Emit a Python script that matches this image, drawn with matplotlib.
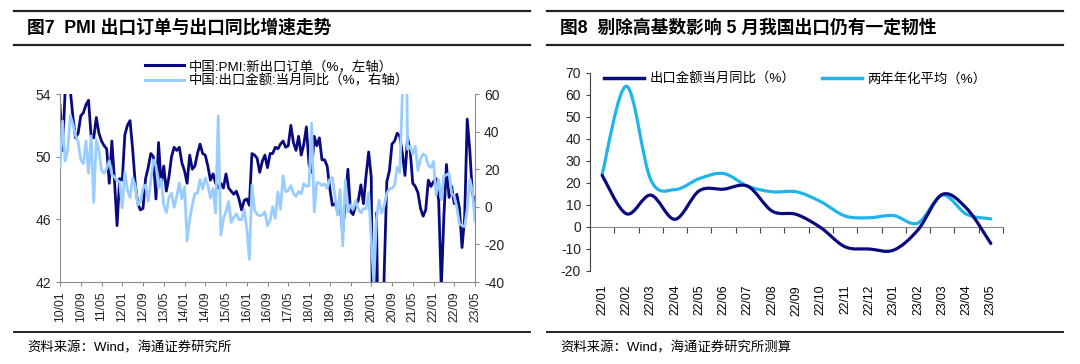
import numpy as np
import matplotlib
matplotlib.use('Agg')
import matplotlib.pyplot as plt
from matplotlib.lines import Line2D
from matplotlib.path import Path
from matplotlib.patches import PathPatch

plt.rcParams['font.family'] = ['Liberation Sans', 'Noto Sans CJK SC']
plt.rcParams['axes.unicode_minus'] = False

# ---- left chart: PMI new export orders (left axis) and export yoy (right axis), 2010/01 - 2023/05
pmi_export = [
    53.3, 50.4, 54.3, 55.0, 54.2, 52.5, 51.2, 51.5, 52.6, 52.8, 53.3, 53.6,
    51.3, 51.2, 52.5, 51.5, 51.0, 50.7, 50.5, 48.3, 51.0, 48.5, 45.6, 48.6,
    48.5, 51.4, 52.0, 52.3, 50.5, 48.3, 47.0, 46.6, 46.7, 48.6, 49.3, 50.2,
    50.0, 47.3, 50.9, 48.2, 49.4, 47.8, 48.7, 50.0, 50.6, 50.4, 50.6, 49.6,
    49.1, 48.3, 50.1, 49.2, 49.4, 50.2, 50.8, 50.2, 50.1, 49.4, 48.5, 48.9,
    48.3, 48.0, 48.3, 48.0, 48.9, 48.0, 47.8, 47.6, 47.8, 47.3, 46.6, 47.2,
    47.3, 46.9, 50.2, 50.1, 49.9, 49.0, 49.7, 50.1, 49.3, 50.2, 50.2, 50.6,
    50.5, 50.8, 51.0, 50.6, 50.7, 52.0, 50.9, 50.4, 51.3, 50.1, 50.8, 51.9,
    49.5, 49.0, 51.3, 50.7, 51.2, 49.8, 49.8, 49.4, 48.0, 46.9, 47.0, 46.6,
    46.9, 45.2, 47.1, 49.2, 46.5, 46.3, 46.9, 47.2, 48.2, 47.0, 48.8, 50.3,
    48.7, 28.7, 46.4, 33.5, 35.3, 42.6, 48.4, 49.1, 50.8, 51.0, 51.5, 51.3,
    50.2, 48.8, 51.2, 50.4, 48.3, 48.1, 47.7, 46.7, 46.2, 46.6, 48.5, 48.1,
    48.4, 48.6, 47.2, 41.6, 46.2, 49.5, 47.4, 48.1, 47.0, 47.6, 46.7, 44.2,
    46.1, 52.4, 50.4, 47.6, 47.2,
]
export_yoy = [
    21.0, 45.7, 24.3, 30.5, 48.5, 43.9, 38.1, 34.4, 25.1, 22.9, 34.9, 17.9,
    37.7, 2.4, 35.8, 29.9, 19.4, 17.9, 20.4, 24.5, 17.1, 15.9, 13.8, 13.4,
    -0.5, 18.4, 8.9, 4.9, 15.3, 11.3, 1.0, 2.7, 9.9, 11.6, 2.9, 14.1,
    25.0, 21.8, 10.0, 14.7, 1.0, -3.1, 5.1, 7.2, -0.3, 5.6, 12.7, 4.3,
    10.6, -18.1, -6.6, 0.9, 7.0, 7.2, 14.5, 9.4, 15.3, 11.6, 4.7, 9.7,
    -3.3, 48.3, -15.0, -6.4, -2.5, 2.8, -8.3, -5.5, -3.7, -6.9, -6.8, -1.4,
    -11.2, -28.0, 11.5, -1.8, -4.1, -4.8, -4.4, -2.8, -10.0, -7.3, 0.1, -6.1,
    7.9, -1.3, 16.4, 8.0, 8.7, 11.3, 7.2, 5.5, 8.1, 6.9, 12.3, 10.9,
    11.1, 44.5, -2.7, 12.9, 12.6, 11.3, 12.2, 9.8, 14.5, 15.6, 5.4, -4.4,
    9.1, -20.8, 14.2, -2.7, 1.1, -1.3, 3.3, -1.0, -3.2, -0.9, -1.1, 7.6,
    -17.2, -40.6, -6.6, 3.5, -3.3, 0.5, 7.2, 9.5, 9.9, 11.4, 21.1, 18.1,
    60.6, 154.9, 30.6, 32.3, 27.9, 32.2, 19.3, 25.6, 28.1, 27.1, 22.0, 20.9,
    24.1, 6.3, 14.4, 3.7, 16.3, 17.0, 17.8, 7.0, 5.6, -0.4, -9.0, -10.0,
    -10.5, -1.3, 14.8, 8.5, -7.5,
]
left_ticklabels = ['10/01', '10/09', '11/05', '12/01', '12/09', '13/05', '14/01',
                   '14/09', '15/05', '16/01', '16/09', '17/05', '18/01', '18/09',
                   '19/05', '20/01', '20/09', '21/05', '22/01', '22/09', '23/05']

# ---- right chart: 2022/01 - 2023/05
months = ['22/01', '22/02', '22/03', '22/04', '22/05', '22/06', '22/07', '22/08',
          '22/09', '22/10', '22/11', '22/12', '23/01', '23/02', '23/03', '23/04', '23/05']
export_month = [23.5, 6.0, 14.5, 3.5, 16.5, 17.2, 18.5, 7.2, 5.7, -0.3, -9.0,
                -10.0, -10.5, -1.3, 14.8, 8.5, -7.5]
two_year_avg = [24.0, 64.0, 21.5, 17.0, 22.0, 24.3, 18.5, 16.0, 16.0, 11.5, 5.0,
                4.2, 5.2, 1.8, 14.5, 5.8, 3.7]

DARK = '#0a0a80'
LIGHT = '#99ccff'
CYAN = '#1fb4ec'
GRAY = '#8c8c8c'

W, H = 1080, 364
fig = plt.figure(figsize=(W / 100, H / 100), dpi=100)


def fx(px):
    return px / W


def fy(py):
    return 1 - py / H


# frame lines and titles
for x0, x1 in [(14, 530), (547, 1063)]:
    for yy, lw in [(11, 1.6), (45, 1.6), (332, 1.4)]:
        fig.add_artist(Line2D([fx(x0), fx(x1)], [fy(yy), fy(yy)], color='#222222', lw=lw))
fig.text(fx(27), fy(28), '图7  PMI 出口订单与出口同比增速走势', fontsize=12.8,
         weight='bold', va='center')
fig.text(fx(560), fy(28), '图8  剔除高基数影响 5 月我国出口仍有一定韧性', fontsize=12.8,
         weight='bold', va='center')
fig.text(fx(27), fy(348), '资料来源：Wind，海通证券研究所', fontsize=9.6, va='center')
fig.text(fx(560), fy(348), '资料来源：Wind，海通证券研究所测算', fontsize=9.6, va='center')

# ---- left chart
ax1 = fig.add_axes([fx(60), fy(282), fx(415), 188 / H])
x = np.arange(len(pmi_export))
ax1.plot(x, pmi_export, color=DARK, lw=2.0, solid_joinstyle='round')
ax1.set_xlim(0, len(pmi_export) - 1)
ax1.set_ylim(42, 54)
ax1.set_yticks([42, 46, 50, 54])
ax1.set_xticks(np.arange(0, len(pmi_export), 8))
ax1.set_xticklabels(left_ticklabels, rotation=90, fontsize=8.8)
for s in ['top', 'right']:
    ax1.spines[s].set_visible(False)
for s in ['left', 'bottom']:
    ax1.spines[s].set_color(GRAY)
ax1.tick_params(axis='both', colors=GRAY, labelcolor='#222222', length=3, width=0.8)
ax1.tick_params(axis='y', labelsize=10)
ax1.patch.set_visible(False)

ax2 = ax1.twinx()
ax2.plot(x, export_yoy, color=LIGHT, lw=2.0, solid_joinstyle='round')
ax2.set_ylim(-40, 60)
ax2.set_yticks(np.arange(-40, 61, 20))
for s in ['top', 'left', 'bottom']:
    ax2.spines[s].set_visible(False)
ax2.spines['right'].set_color(GRAY)
ax2.tick_params(axis='y', colors=GRAY, labelcolor='#222222', length=3, width=0.8,
                labelsize=10)

fig.legend([Line2D([], [], color=DARK, lw=2.2), Line2D([], [], color=LIGHT, lw=2.2)],
           ['中国:PMI:新出口订单（%，左轴）', '中国:出口金额:当月同比（%，右轴）'],
           loc='upper left', bbox_to_anchor=(fx(145), fy(60)), frameon=False,
           fontsize=9.6, handlelength=2.9, handletextpad=0.35, labelspacing=0.12,
           borderpad=0, borderaxespad=0)


# ---- right chart (smoothed lines)
def smooth_path(xs, ys):
    pts = np.column_stack([xs, ys]).astype(float)
    verts = [pts[0]]
    codes = [Path.MOVETO]
    n = len(pts)
    for i in range(n - 1):
        p0 = pts[max(i - 1, 0)]
        p1 = pts[i]
        p2 = pts[i + 1]
        p3 = pts[min(i + 2, n - 1)]
        c1 = p1 + (p2 - p0) / 6
        c2 = p2 - (p3 - p1) / 6
        verts += [c1, c2, p2]
        codes += [Path.CURVE4] * 3
    return Path(verts, codes)


ax3 = fig.add_axes([fx(590), fy(271), fx(413), 198 / H])
xr = np.arange(len(months))
for ys, col in [(two_year_avg, CYAN), (export_month, DARK)]:
    ax3.add_patch(PathPatch(smooth_path(xr, ys), fill=False, edgecolor=col, lw=2.3,
                            capstyle='round', joinstyle='round'))
ax3.set_xlim(-0.5, len(months) - 0.5)
ax3.set_ylim(-20, 70)
ax3.set_yticks(np.arange(-20, 71, 10))
ax3.set_xticks(xr)
ax3.set_xticklabels(months, rotation=90, fontsize=8.8)
ax3.tick_params(axis='x', length=0, pad=10)
ax3.tick_params(axis='y', colors='#444444', labelcolor='#222222', length=3,
                width=0.8, labelsize=10)
for s in ['top', 'right', 'bottom']:
    ax3.spines[s].set_visible(False)
ax3.spines['left'].set_color('#444444')
zero = ax3.secondary_xaxis(20 / 90)
zero.set_xticks(np.arange(-0.5, len(months), 1))
zero.set_xticklabels([])
zero.spines['bottom'].set_color(GRAY)
zero.tick_params(axis='x', colors='#444444', length=4, width=0.8, direction='out')

ax3.legend([Line2D([], [], color=DARK, lw=2.5), Line2D([], [], color=CYAN, lw=2.5)],
           ['出口金额当月同比（%）', '两年年化平均（%）'],
           loc='upper left', bbox_to_anchor=(fx(604 - 590) * W / 413, 1.0),
           ncol=2, frameon=False, fontsize=9.6, handlelength=3.0, handletextpad=0.4,
           columnspacing=2.0, borderpad=0, borderaxespad=0)

fig.savefig('out.png', dpi=100)
